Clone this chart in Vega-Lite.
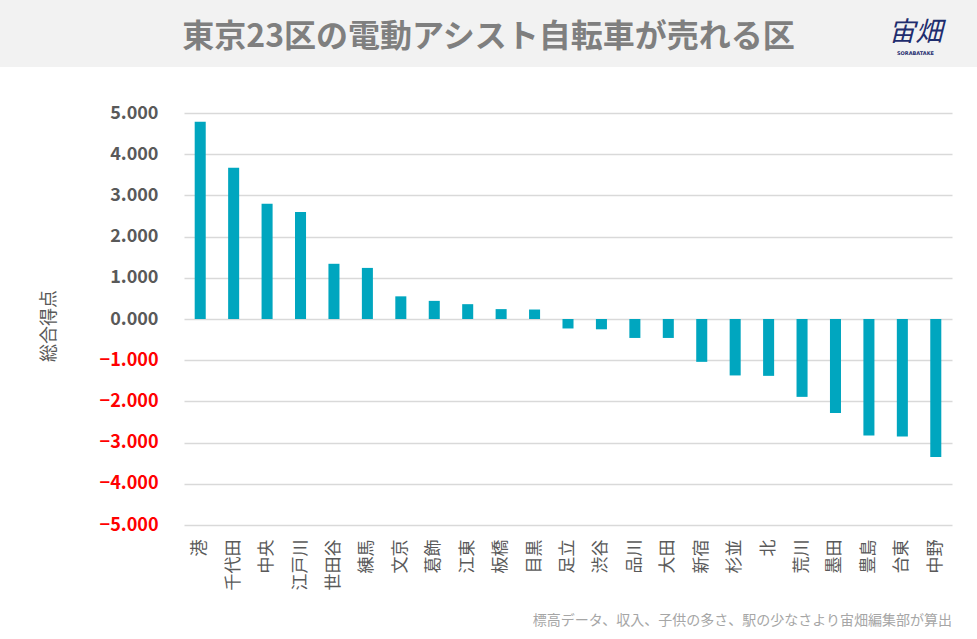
{
  "$schema": "https://vega.github.io/schema/vega-lite/v6.json",
  "padding": 0,
  "background": "#ffffff",
  "columns": 1,
  "align": "none",
  "spacing": 37,
  "concat": [
    {
      "width": 977,
      "height": 67,
      "view": {"fill": "#f2f2f2", "stroke": null},
      "data": {"values": [{"title": "東京23区の電動アシスト自転車が売れる区", "logo": "宙畑", "sub": "SORABATAKE"}]},
      "layer": [
        {
          "mark": {"type": "text", "font": "Noto Sans CJK JP", "fontSize": 32, "fontWeight": "bold", "color": "#7f7f7f", "baseline": "middle", "dy": 3},
          "encoding": {"text": {"field": "title"}}
        },
        {
          "mark": {"type": "text", "font": "Noto Sans CJK JP", "fontSize": 27, "fontStyle": "italic", "color": "#1f2d6e", "baseline": "middle", "dx": 427, "dy": -1},
          "encoding": {"text": {"field": "logo"}}
        },
        {
          "mark": {"type": "text", "font": "DejaVu Sans", "fontSize": 5, "fontWeight": "bold", "color": "#1f2d6e", "baseline": "middle", "dx": 427, "dy": 19},
          "encoding": {"text": {"field": "sub"}}
        }
      ]
    },
    {
      "spacing": 0,
      "hconcat": [
        {
          "width": 99,
          "height": 426,
          "data": {"values": [{"t": "総合得点"}]},
          "mark": {"type": "text", "font": "Noto Sans CJK JP", "fontSize": 18, "color": "#595959", "angle": 270, "baseline": "middle"},
          "encoding": {"text": {"field": "t"}}
        },
        {
          "width": 768,
          "height": 412,
          "title": {
            "text": "標高データ、収入、子供の多さ、駅の少なさより宙畑編集部が算出",
            "orient": "bottom",
            "anchor": "end",
            "offset": 24,
            "font": "Noto Sans CJK JP",
            "fontSize": 14,
            "fontWeight": "normal",
            "color": "#a6a6a6"
          },
          "data": {
            "values": [
              {"ward": "港", "score": 4.79},
              {"ward": "千代田", "score": 3.67},
              {"ward": "中央", "score": 2.8},
              {"ward": "江戸川", "score": 2.6},
              {"ward": "世田谷", "score": 1.34},
              {"ward": "練馬", "score": 1.24},
              {"ward": "文京", "score": 0.55},
              {"ward": "葛飾", "score": 0.44},
              {"ward": "江東", "score": 0.36},
              {"ward": "板橋", "score": 0.24},
              {"ward": "目黒", "score": 0.23},
              {"ward": "足立", "score": -0.23},
              {"ward": "渋谷", "score": -0.25},
              {"ward": "品川", "score": -0.46},
              {"ward": "大田", "score": -0.46},
              {"ward": "新宿", "score": -1.04},
              {"ward": "杉並", "score": -1.37},
              {"ward": "北", "score": -1.38},
              {"ward": "荒川", "score": -1.89},
              {"ward": "墨田", "score": -2.28},
              {"ward": "豊島", "score": -2.83},
              {"ward": "台東", "score": -2.85},
              {"ward": "中野", "score": -3.35}
            ]
          },
          "mark": {"type": "bar", "color": "#00a6bf"},
          "encoding": {
            "x": {
              "field": "ward",
              "type": "nominal",
              "sort": null,
              "scale": {"paddingInner": 0.67, "paddingOuter": 0.32},
              "axis": {
                "title": null,
                "labelAngle": 270,
                "labelPadding": 14,
                "labelFont": "Noto Sans CJK JP",
                "labelFontSize": 17,
                "labelColor": "#595959",
                "ticks": false,
                "domain": false,
                "grid": false
              }
            },
            "y": {
              "field": "score",
              "type": "quantitative",
              "scale": {"domain": [-5, 5], "nice": false},
              "axis": {
                "title": null,
                "values": [-5, -4, -3, -2, -1, 0, 1, 2, 3, 4, 5],
                "format": ".3f",
                "labelFont": "Noto Sans CJK JP",
                "labelFontSize": 18,
                "labelFontWeight": "bold",
                "labelColor": {"condition": {"test": "datum.value < 0", "value": "#ff0000"}, "value": "#595959"},
                "labelPadding": 26,
                "ticks": false,
                "domain": false,
                "grid": true,
                "gridColor": "#d9d9d9",
                "gridWidth": 1.3
              }
            }
          }
        }
      ]
    }
  ],
  "config": {
    "view": {"stroke": null}
  }
}
